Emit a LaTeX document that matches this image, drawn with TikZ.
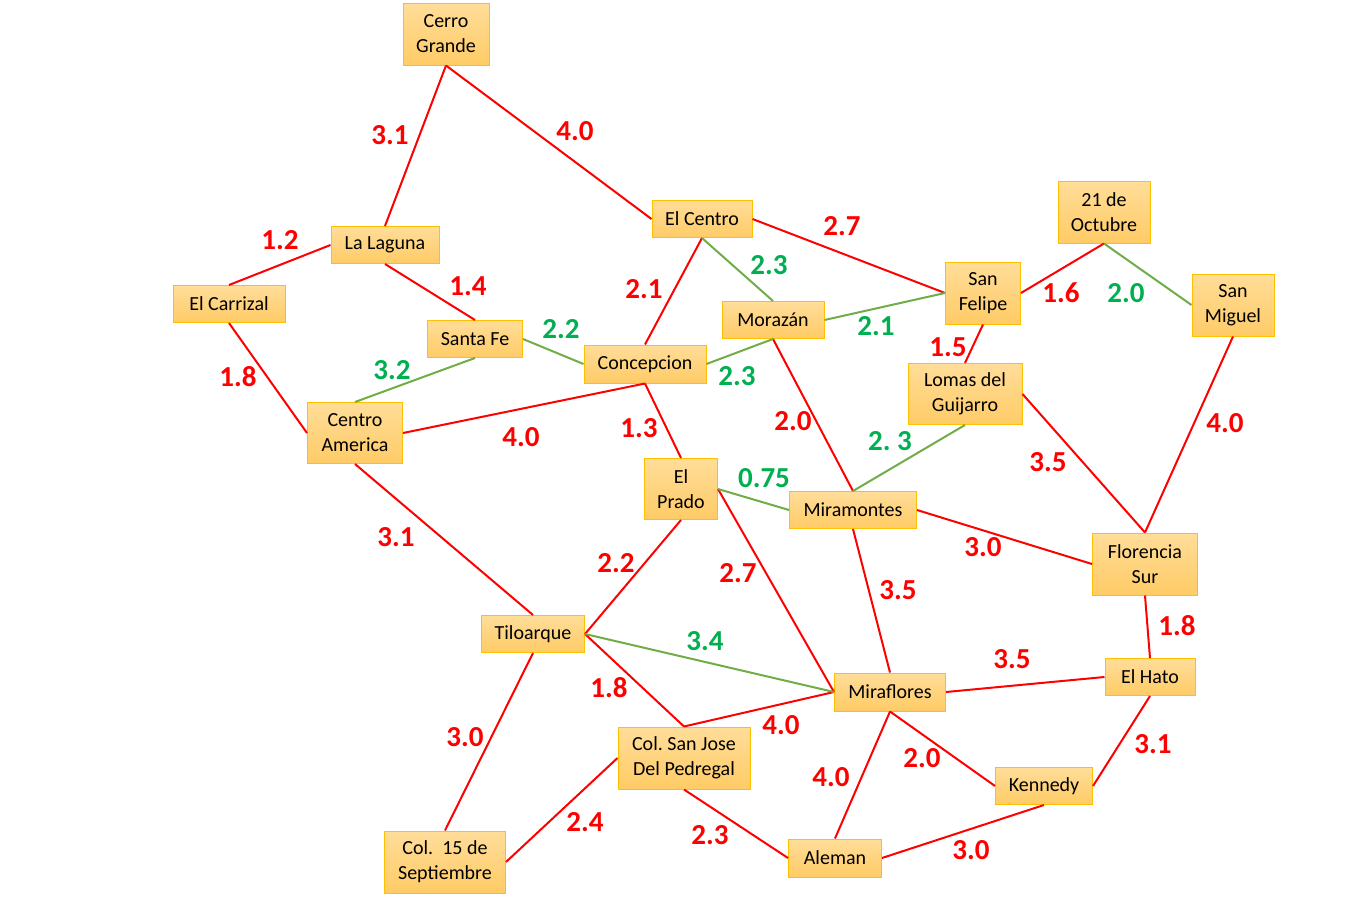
\documentclass[tikz,border=0pt]{standalone}
\usepackage{fontspec}
\setmainfont{Carlito}
\frenchspacing
\definecolor{boxline}{HTML}{FFC000}
\definecolor{boxtop}{HTML}{FFDD99}
\definecolor{boxbot}{HTML}{FFCB66}
\definecolor{wred}{HTML}{FF0000}
\definecolor{wgreen}{HTML}{00B050}
\definecolor{egreen}{HTML}{70AD47}
\tikzset{
  town/.style={draw=boxline,line width=0.5pt,top color=boxtop,bottom color=boxbot,inner sep=0pt,align=center,font=\fontsize{10}{12.5}\selectfont},
  rd/.style={draw=wred,line width=1pt},
  gr/.style={draw=egreen,line width=1pt},
  wr/.style={text=wred,font=\fontsize{14.5}{17}\selectfont\bfseries},
  wg/.style={text=wgreen,font=\fontsize{14.5}{17}\selectfont\bfseries}
}
\begin{document}
\begin{tikzpicture}[x=0.5pt,y=-0.5pt]
\useasboundingbox (0,0) rectangle (1357,900);
\node (cerro) at (446,34) [town,minimum width=43pt,minimum height=31pt] {Cerro\\Grande};
\node (laguna) at (385,245) [town,minimum width=54pt,minimum height=18.5pt] {La Laguna};
\node (carrizal) at (229,304) [town,minimum width=56pt,minimum height=18.5pt] {El Carrizal};
\node (santafe) at (475,339) [town,minimum width=47.5pt,minimum height=18.5pt] {Santa Fe};
\node (centroam) at (355,433) [town,minimum width=47.5pt,minimum height=30.5pt] {Centro\\America};
\node (concep) at (645,364) [town,minimum width=61pt,minimum height=19pt] {Concepcion};
\node (elcentro) at (702,219) [town,minimum width=50pt,minimum height=18.5pt] {El Centro};
\node (morazan) at (773,320) [town,minimum width=51pt,minimum height=18.5pt] {Morazán};
\node (sanfelipe) at (983,293) [town,minimum width=37.5pt,minimum height=31pt] {San\\Felipe};
\node (octubre) at (1104,212) [town,minimum width=46pt,minimum height=31pt] {21 de\\Octubre};
\node (sanmiguel) at (1233,305) [town,minimum width=41pt,minimum height=31pt] {San\\Miguel};
\node (lomas) at (965,394) [town,minimum width=57pt,minimum height=30.5pt] {Lomas del\\Guijarro};
\node (elprado) at (681,489) [town,minimum width=36.5pt,minimum height=30.5pt] {El\\Prado};
\node (miramontes) at (853,510) [town,minimum width=63.5pt,minimum height=18.5pt] {Miramontes};
\node (florencia) at (1145,564) [town,minimum width=52.5pt,minimum height=31pt] {Florencia\\Sur};
\node (tiloarque) at (533,634) [town,minimum width=51.5pt,minimum height=18.5pt] {Tiloarque};
\node (miraflores) at (890,692) [town,minimum width=55.5pt,minimum height=19pt] {Miraflores};
\node (elhato) at (1150,677) [town,minimum width=45pt,minimum height=18.5pt] {El Hato};
\node (sanjose) at (684,758) [town,minimum width=66pt,minimum height=31pt] {Col. San Jose\\Del Pedregal};
\node (kennedy) at (1044,786) [town,minimum width=48.5pt,minimum height=18.5pt] {Kennedy};
\node (aleman) at (835,858) [town,minimum width=46.5pt,minimum height=19pt] {Aleman};
\node (col15) at (445,862) [town,minimum width=60.5pt,minimum height=31pt] {Col.\ \ 15 de\\Septiembre};
% red roads
\draw[rd] (cerro.south) -- (laguna.north);
\draw[rd] (cerro.south) -- (elcentro.west);
\draw[rd] (laguna.west) -- (carrizal.north);
\draw[rd] (laguna.south) -- (santafe.north);
\draw[rd] (carrizal.south) -- (centroam.west);
\draw[rd] (concep.north) -- (elcentro.south);
\draw[rd] (concep.south) -- (centroam.east);
\draw[rd] (concep.south) -- (elprado.north);
\draw[rd] (elcentro.east) -- (sanfelipe.west);
\draw[rd] (sanfelipe.south) -- (lomas.north);
\draw[rd] (sanfelipe.east) -- (octubre.south);
\draw[rd] (sanmiguel.south) -- (florencia.north);
\draw[rd] (lomas.east) -- (florencia.north);
\draw[rd] (morazan.south) -- (miramontes.north);
\draw[rd] (elprado.east) -- (miraflores.west);
\draw[rd] (elprado.south) -- (tiloarque.east);
\draw[rd] (miramontes.east) -- (florencia.west);
\draw[rd] (miramontes.south) -- (miraflores.north);
\draw[rd] (florencia.south) -- (elhato.north);
\draw[rd] (centroam.south) -- (tiloarque.north);
\draw[rd] (tiloarque.east) -- (sanjose.north);
\draw[rd] (sanjose.north) -- (miraflores.west);
\draw[rd] (miraflores.east) -- (elhato.west);
\draw[rd] (miraflores.south) -- (kennedy.west);
\draw[rd] (miraflores.south) -- (aleman.north);
\draw[rd] (elhato.south) -- (kennedy.east);
\draw[rd] (kennedy.south) -- (aleman.east);
\draw[rd] (sanjose.south) -- (aleman.west);
\draw[rd] (tiloarque.south) -- (col15.north);
\draw[rd] (col15.east) -- (sanjose.west);
% green roads
\draw[gr] (santafe.south) -- (centroam.north);
\draw[gr] (santafe.east) -- (concep.west);
\draw[gr] (concep.east) -- (morazan.south);
\draw[gr] (elcentro.south) -- (morazan.north);
\draw[gr] (morazan.east) -- (sanfelipe.west);
\draw[gr] (octubre.south) -- (sanmiguel.west);
\draw[gr] (lomas.south) -- (miramontes.north);
\draw[gr] (elprado.east) -- (miramontes.west);
\draw[gr] (tiloarque.east) -- (miraflores.west);
% weights
\node[wr] at (390,135) {3.1};
\node[wr] at (575,131) {4.0};
\node[wr] at (280,240) {1.2};
\node[wr] at (468,286) {1.4};
\node[wr] at (238,377) {1.8};
\node[wg] at (392,370) {3.2};
\node[wg] at (561,329) {2.2};
\node[wr] at (644,289) {2.1};
\node[wg] at (737,376) {2.3};
\node[wr] at (521,437) {4.0};
\node[wr] at (639,428) {1.3};
\node[wg] at (769,265) {2.3};
\node[wr] at (842,226) {2.7};
\node[wg] at (876,326) {2.1};
\node[wr] at (948,347) {1.5};
\node[wr] at (1061,293) {1.6};
\node[wg] at (1126,293) {2.0};
\node[wr] at (1225,423) {4.0};
\node[wr] at (1048,462) {3.5};
\node[wg] at (890,441) {2. 3};
\node[wr] at (793,421) {2.0};
\node[wg] at (764,478) {0.75};
\node[wr] at (738,573) {2.7};
\node[wr] at (616,563) {2.2};
\node[wr] at (983,547) {3.0};
\node[wr] at (898,590) {3.5};
\node[wr] at (1177,626) {1.8};
\node[wr] at (396,537) {3.1};
\node[wg] at (705,641) {3.4};
\node[wr] at (609,688) {1.8};
\node[wr] at (781,725) {4.0};
\node[wr] at (1012,659) {3.5};
\node[wr] at (922,758) {2.0};
\node[wr] at (831,777) {4.0};
\node[wr] at (1153,744) {3.1};
\node[wr] at (971,850) {3.0};
\node[wr] at (710,835) {2.3};
\node[wr] at (465,737) {3.0};
\node[wr] at (585,822) {2.4};
\end{tikzpicture}
\end{document}
